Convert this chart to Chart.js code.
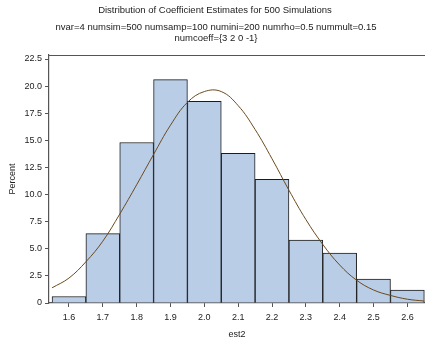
<!DOCTYPE html>
<html>
<head>
<meta charset="utf-8">
<script src="https://cdn.jsdelivr.net/npm/chart.js@4"></script>
<style>
  body { margin: 0; background: #fff; }
  #wrap { width: 425px; height: 340px; }
</style>
</head>
<body>
<div id="wrap"><canvas id="histChart" width="425" height="340"></canvas></div>
<script>
// histogram bins (midpoints) and percent per bin
const binMids = [1.6, 1.7, 1.8, 1.9, 2.0, 2.1, 2.2, 2.3, 2.4, 2.5, 2.6];
const binPercent = [0.6, 6.4, 14.8, 20.6, 18.6, 13.8, 11.4, 5.8, 4.6, 2.2, 1.2];

// normal curve
const curveX = [1.55, 1.60, 1.65, 1.70, 1.75, 1.80, 1.85, 1.90, 1.95, 2.00, 2.05,
                2.10, 2.15, 2.20, 2.25, 2.30, 2.35, 2.40, 2.45, 2.50, 2.55, 2.60, 2.65];
const curveY = [1.4, 2.3, 3.8, 5.7, 8.2, 10.9, 13.7, 16.4, 18.5, 19.5, 19.5,
                18.2, 16.0, 13.3, 10.4, 7.7, 5.4, 3.5, 2.1, 1.2, 0.7, 0.35, 0.18];

const xTicks = [1.6, 1.7, 1.8, 1.9, 2.0, 2.1, 2.2, 2.3, 2.4, 2.5, 2.6];
const yTicks = [0, 2.5, 5, 7.5, 10, 12.5, 15, 17.5, 20, 22.5];

const title = "Distribution of Coefficient Estimates for 500 Simulations";
const subtitle = ["nvar=4 numsim=500 numsamp=100 numini=200 numrho=0.5 nummult=0.15",
                  "numcoeff={3 2 0 -1}"];

const font = "Liberation Sans, Arial, sans-serif";

const headerPlugin = {
    id: "header",
    afterDraw(chart) {
        const ctx = chart.ctx;
        const ca = chart.chartArea;
        ctx.save();
        ctx.fillStyle = "#222";
        ctx.textAlign = "center";
        ctx.textBaseline = "middle";
        ctx.font = "9.5px " + font;
        ctx.fillText(title, 215, 10);
        ctx.fillText(subtitle[0], 216, 27);
        ctx.fillText(subtitle[1], 216, 38);
        // top frame line
        ctx.strokeStyle = "#555";
        ctx.lineWidth = 1.2;
        ctx.beginPath();
        ctx.moveTo(ca.left, ca.top + 0.5);
        ctx.lineTo(425, ca.top + 0.5);
        ctx.stroke();
        ctx.restore();
    }
};

const points = binMids.map((m, i) => ({ x: m, y: binPercent[i] }));
const curve = curveX.map((x, i) => ({ x: x, y: curveY[i] }));

new Chart(document.getElementById("histChart").getContext("2d"), {
    type: "bar",
    data: {
        datasets: [{
            type: "line",
            data: curve,
            borderColor: "#6b4a1e",
            borderWidth: 1,
            pointRadius: 0,
            tension: 0.4,
            fill: false,
            order: 0
        }, {
            type: "bar",
            data: points,
            backgroundColor: "#b9cde6",
            borderColor: "#1c1c1c",
            borderWidth: 1,
            borderSkipped: "bottom",
            barPercentage: 1,
            categoryPercentage: 1,
            order: 1
        }]
    },
    options: {
        responsive: false,
        animation: false,
        layout: { padding: { top: 55, right: 0, left: 0, bottom: 0 } },
        plugins: {
            legend: { display: false },
            tooltip: { enabled: false }
        },
        scales: {
            x: {
                type: "linear",
                offset: false,
                min: 1.541,
                max: 2.652,
                afterBuildTicks: s => { s.ticks = xTicks.map(v => ({ value: v })); },
                afterFit: s => { s.height = 37; s.paddingLeft = 0; s.paddingRight = 0; },
                ticks: {
                    color: "#222",
                    font: { size: 9, family: font },
                    padding: 5,
                    maxRotation: 0,
                    callback: v => v.toFixed(1)
                },
                grid: { display: true, offset: false, drawOnChartArea: false, tickLength: 4, color: "#555" },
                border: { color: "#555", width: 1.2 },
                title: {
                    display: true,
                    text: "est2",
                    color: "#222",
                    font: { size: 9, family: font },
                    padding: { top: 2, bottom: 0 }
                }
            },
            y: {
                min: 0,
                max: 22.87,
                afterBuildTicks: s => { s.ticks = yTicks.map(v => ({ value: v })); },
                afterFit: s => { s.width = 49; s.paddingTop = 0; s.paddingBottom = 0; },
                ticks: {
                    color: "#222",
                    font: { size: 9, family: font },
                    padding: 3,
                    callback: v => v === 0 ? "0" : v.toFixed(1)
                },
                grid: { display: true, drawOnChartArea: false, tickLength: 4, color: "#555" },
                border: { color: "#555", width: 1.2 },
                title: {
                    display: true,
                    text: "Percent",
                    color: "#222",
                    font: { size: 9, family: font },
                    padding: { top: 7, bottom: 2 }
                }
            }
        }
    },
    plugins: [headerPlugin]
});
</script>
</body>
</html>
